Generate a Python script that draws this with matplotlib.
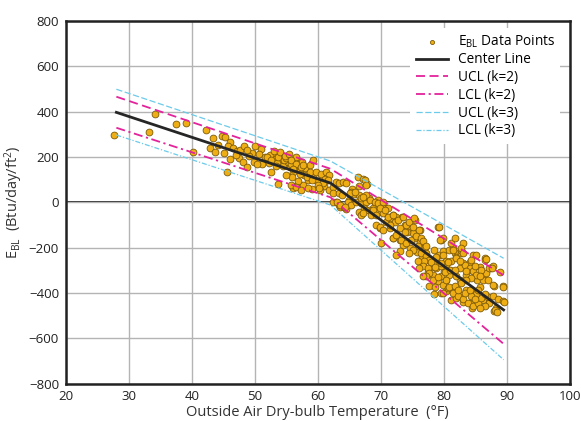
import matplotlib
matplotlib.use("Agg")
import matplotlib.pyplot as plt
import numpy as np

plt.rcParams['font.family'] = ['Open Sans', 'DejaVu Sans']
plt.rcParams['mathtext.fontset'] = 'custom'
plt.rcParams['mathtext.rm'] = 'Open Sans'
plt.rcParams['mathtext.it'] = 'Open Sans'

# ---- data ----
temp_pts = [
    27.6, 34.1, 33.2, 37.5, 39.0, 42.2, 40.1, 42.9,
    43.3, 43.6, 44.7, 45.2, 46.0, 45.8, 45.1, 46.6, 47.1, 47.6, 48.3, 47.5,
    48.1, 46.1, 48.7, 49.5, 49.8, 51.0, 50.7, 51.2, 50.3, 45.6, 52.9, 53.2,
    53.9, 54.2, 53.5, 54.5, 55.3, 55.6, 56.1, 55.1, 56.0, 53.7, 56.0, 56.7,
    52.4, 53.0, 53.6, 54.0, 54.6, 55.0, 55.7, 56.3, 56.8, 57.0, 57.2, 52.2,
    51.6, 49.0, 48.8, 47.0, 44.2, 50.0,
    52.0, 52.6, 53.3, 54.8, 55.4, 56.5, 57.5, 58.0, 58.8, 57.8, 58.5, 59.2,
    59.8, 60.6, 61.0, 59.0, 57.7, 56.9, 55.9, 54.9, 52.6,
    55.8, 56.6, 57.4, 56.0, 57.1, 57.6, 59.3, 58.7, 59.7, 60.5, 61.3, 61.8,
    61.1, 61.6, 60.8, 60.3, 55.8, 56.6, 57.4, 58.4, 60.0, 61.8, 62.4, 62.9,
    63.4, 64.0, 64.5, 62.4, 63.4, 58.2, 59.0, 60.2,
    63.5, 64.5, 65.0, 63.8, 65.5, 66.5,
    66.3, 67.2, 67.8, 65.3, 65.7, 66.6, 67.1, 64.8, 65.3, 66.1, 66.9, 67.7,
    68.2, 69.0, 69.5, 70.1, 70.6, 71.1, 68.7, 67.4, 66.6, 68.2, 69.5, 70.3,
    71.1, 68.5, 66.9, 62.9, 63.4, 64.2, 62.4, 69.3, 69.8, 70.8, 71.4, 70.1,
    71.4, 71.9, 72.4, 65.1, 65.9, 66.9, 67.7, 63.0, 63.5, 64.3,
    67.5, 67.7, 67.2, 68.3, 69.0, 69.6, 70.4, 69.8, 68.8, 67.7, 67.2, 69.3,
    70.6, 71.2, 72.0, 72.2, 71.4, 69.8, 70.4, 73.3, 73.8, 74.6, 75.1, 76.2,
    75.4, 74.1, 73.0, 72.0, 73.5, 74.6, 75.4, 76.2, 77.0, 75.7, 76.5, 77.2,
    76.7, 78.0, 77.5, 78.6, 79.1,
    72.7, 73.5, 74.0, 74.5, 75.1, 75.3, 76.1, 73.0, 73.8, 71.9, 72.4, 73.2,
    74.0, 74.8, 75.6, 76.4, 76.7, 77.2, 75.9, 75.1, 74.5, 73.0, 72.4, 76.4,
    77.2, 77.7, 78.3, 76.9, 75.9, 76.7, 77.5, 78.8, 78.5, 79.3, 79.8, 79.6,
    79.2, 79.8, 80.9, 81.4, 81.7, 80.4, 78.8, 78.3, 79.6, 77.7, 76.1, 81.2,
    80.4, 79.0, 78.3, 77.2, 76.7, 77.7, 78.5, 79.6, 80.4, 79.8, 80.6, 80.1,
    80.9, 79.6, 81.2, 80.4,
    79.4, 78.0, 78.6, 78.8, 79.9, 79.6, 80.7, 80.2, 81.0, 79.1, 80.4, 78.6,
    79.9, 81.5, 82.0, 82.8, 83.1, 84.1, 84.4, 83.6, 82.5, 81.7, 82.5, 83.6,
    84.7, 85.7, 85.2, 86.2, 85.7, 86.5, 87.3, 80.9, 81.2, 82.0, 83.1, 84.1,
    85.2, 86.2, 87.0, 84.4, 81.2, 81.8, 82.8, 83.1, 84.7,
    82.0, 82.7, 83.0, 82.0, 82.5, 83.3, 84.1, 84.6, 85.1, 84.3, 83.5, 82.7,
    81.7, 81.4, 82.2, 83.0, 83.8, 84.6, 85.4, 85.9, 86.5, 85.1, 84.3, 83.3,
    82.2, 84.1, 85.4, 86.2, 86.7, 87.2, 87.8, 86.5, 85.9, 85.7, 87.0, 88.0,
    89.4, 87.8, 88.6, 89.4, 88.3, 88.0, 87.2, 86.5, 85.7, 84.9, 83.5, 84.3,
    85.1, 84.9, 82.5, 81.7, 87.8, 89.4, 89.5, 88.1, 88.4, 86.7, 87.6, 88.9,
]
ebl_pts = [
    297, 388, 310, 346, 351, 320, 224, 238,
    282, 223, 294, 287, 268, 249, 216, 238, 228, 231, 249, 197,
    179, 191, 155, 219, 179, 234, 213, 169, 169, 135, 194, 216,
    209, 190, 172, 160, 179, 157, 172, 201, 135, 81, 62, 76,
    208, 225, 200, 222, 185, 195, 168, 185, 150, 165, 140, 175,
    199, 205, 230, 208, 252, 250,
    200, 185, 160, 205, 215, 200, 180, 150, 165, 120, 100, 110,
    95, 110, 70, 60, 75, 95, 110, 120, 135,
    186, 171, 157, 149, 127, 164, 186, 135, 135, 127, 135, 120,
    105, 98, 83, 54, 76, 69, 54, 61, 76, 54, 69, 91,
    83, 91, 83, 40, 40, 110, 100, 65,
    -20, -30, 10, 30, 60, 70,
    110, 102, 80, 47, 37, 32, 18, 3, -12, 3, -4, 3,
    18, 3, 10, -12, -26, -26, -26, -26, -41, -34, -41, -48,
    -63, -56, -56, 3, -12, -19, 3, -100, -114, -85, -114, -180,
    -70, -56, -63, 40, 47, 18, 32, 3, -12, -19,
    98, 76, 25, 10, 3, -4, 3, -26, -34, -34, -48, -56,
    -34, -63, -56, -85, -100, -108, -122, -63, -100, -115, -137, -122,
    -78, -130, -166, -159, -188, -203, -159, -174, -196, -218, -240, -225,
    -269, -284, -306, -255, -108,
    -78, -63, -100, -85, -107, -70, -121, -114, -129, -158, -143, -165,
    -180, -165, -151, -158, -173, -195, -195, -209, -224, -217, -231, -224,
    -238, -253, -268, -260, -260, -282, -290, -290, -209, -231, -217, -165,
    -110, -158, -209, -202, -224, -260, -246, -319, -326, -312, -290, -304,
    -341, -348, -341, -326, -326, -370, -407, -399, -392, -363, -377, -304,
    -319, -282, -260, -275,
    -167, -262, -284, -240, -233, -270, -262, -306, -299, -328, -343, -373,
    -402, -211, -240, -225, -270, -262, -299, -321, -343, -373, -409, -387,
    -402, -373, -343, -328, -284, -247, -292, -373, -431, -424, -439, -446,
    -439, -431, -417, -468, -181, -159, -211, -181, -233,
    -246, -202, -224, -326, -290, -275, -290, -304, -319, -334, -341, -356,
    -370, -399, -414, -429, -443, -458, -443, -421, -407, -407, -414, -399,
    -385, -385, -385, -341, -312, -290, -282, -253, -297, -326, -341, -370,
    -370, -414, -429, -436, -465, -480, -443, -458, -465, -429, -304, -253,
    -231, -282, -260, -297, -365, -375, -439, -475, -483, -252, -291, -306,
]

line_x = [28, 62, 89.5]
center_y = [397, 85, -475]
ucl2_y = [466, 148, -322]
lcl2_y = [329, 22, -625]
ucl3_y = [499, 182, -247]
lcl3_y = [297, -12, -695]

x_ticks = [20, 30, 40, 50, 60, 70, 80, 90, 100]
y_ticks = [-800, -600, -400, -200, 0, 200, 400, 600, 800]

# ---- figure ----
fig = plt.figure(figsize=(5.81, 4.21), dpi=100)
ax = fig.add_axes([0.1136, 0.089, 0.867, 0.861])

ax.set_xlim(20, 100)
ax.set_ylim(-800, 800)
ax.set_xticks(x_ticks)
ax.set_yticks(y_ticks)
ax.grid(True, color='#b4b4b4', linewidth=1.0, zorder=0)
ax.axhline(0, color='#1a1a1a', linewidth=1.3, zorder=1)

ax.scatter(temp_pts, ebl_pts, s=24, facecolor='#EFAF14', edgecolor='#7d5a08',
           linewidth=0.6, zorder=3, label=r'E$_{\mathrm{BL}}$ Data Points')
ax.plot(line_x, center_y, color='#262626', linewidth=2.0, zorder=4, label='Center Line')
ax.plot(line_x, ucl2_y, color='#E3239B', linewidth=1.3, dashes=(5, 2.5), zorder=4,
        label='UCL (k=2)')
ax.plot(line_x, lcl2_y, color='#E3239B', linewidth=1.3, dashes=(5, 2, 1.2, 2), zorder=4,
        label='LCL (k=2)')
ax.plot(line_x, ucl3_y, color='#6CCBEA', linewidth=0.9, dashes=(5, 2), zorder=4,
        label='UCL (k=3)')
ax.plot(line_x, lcl3_y, color='#6CCBEA', linewidth=0.9, dashes=(4, 1.5, 1, 1.5), zorder=4,
        label='LCL (k=3)')

for s in ax.spines.values():
    s.set_linewidth(1.8)
    s.set_color('#222222')
ax.tick_params(length=0, labelsize=9.5, colors='#222222', pad=5)

ax.set_xlabel('Outside Air Dry-bulb Temperature  (°F)', fontsize=10.5, color='#333333')
ax.xaxis.set_label_coords(0.5, -0.058)
ax.set_ylabel(r'E$_{\mathrm{BL}}$  (Btu/day/ft$^2$)', fontsize=10.5, color='#333333')
ax.yaxis.set_label_coords(-0.082, 0.5)

leg = ax.legend(loc='upper right', fontsize=9.8, frameon=True, framealpha=1.0,
                edgecolor='none', facecolor='white', handlelength=2.4,
                borderpad=0.4, labelspacing=0.2, bbox_to_anchor=(0.995, 1.0),
                markerscale=0.6, fancybox=False, handletextpad=0.7)

fig.savefig('out.png', dpi=100)
